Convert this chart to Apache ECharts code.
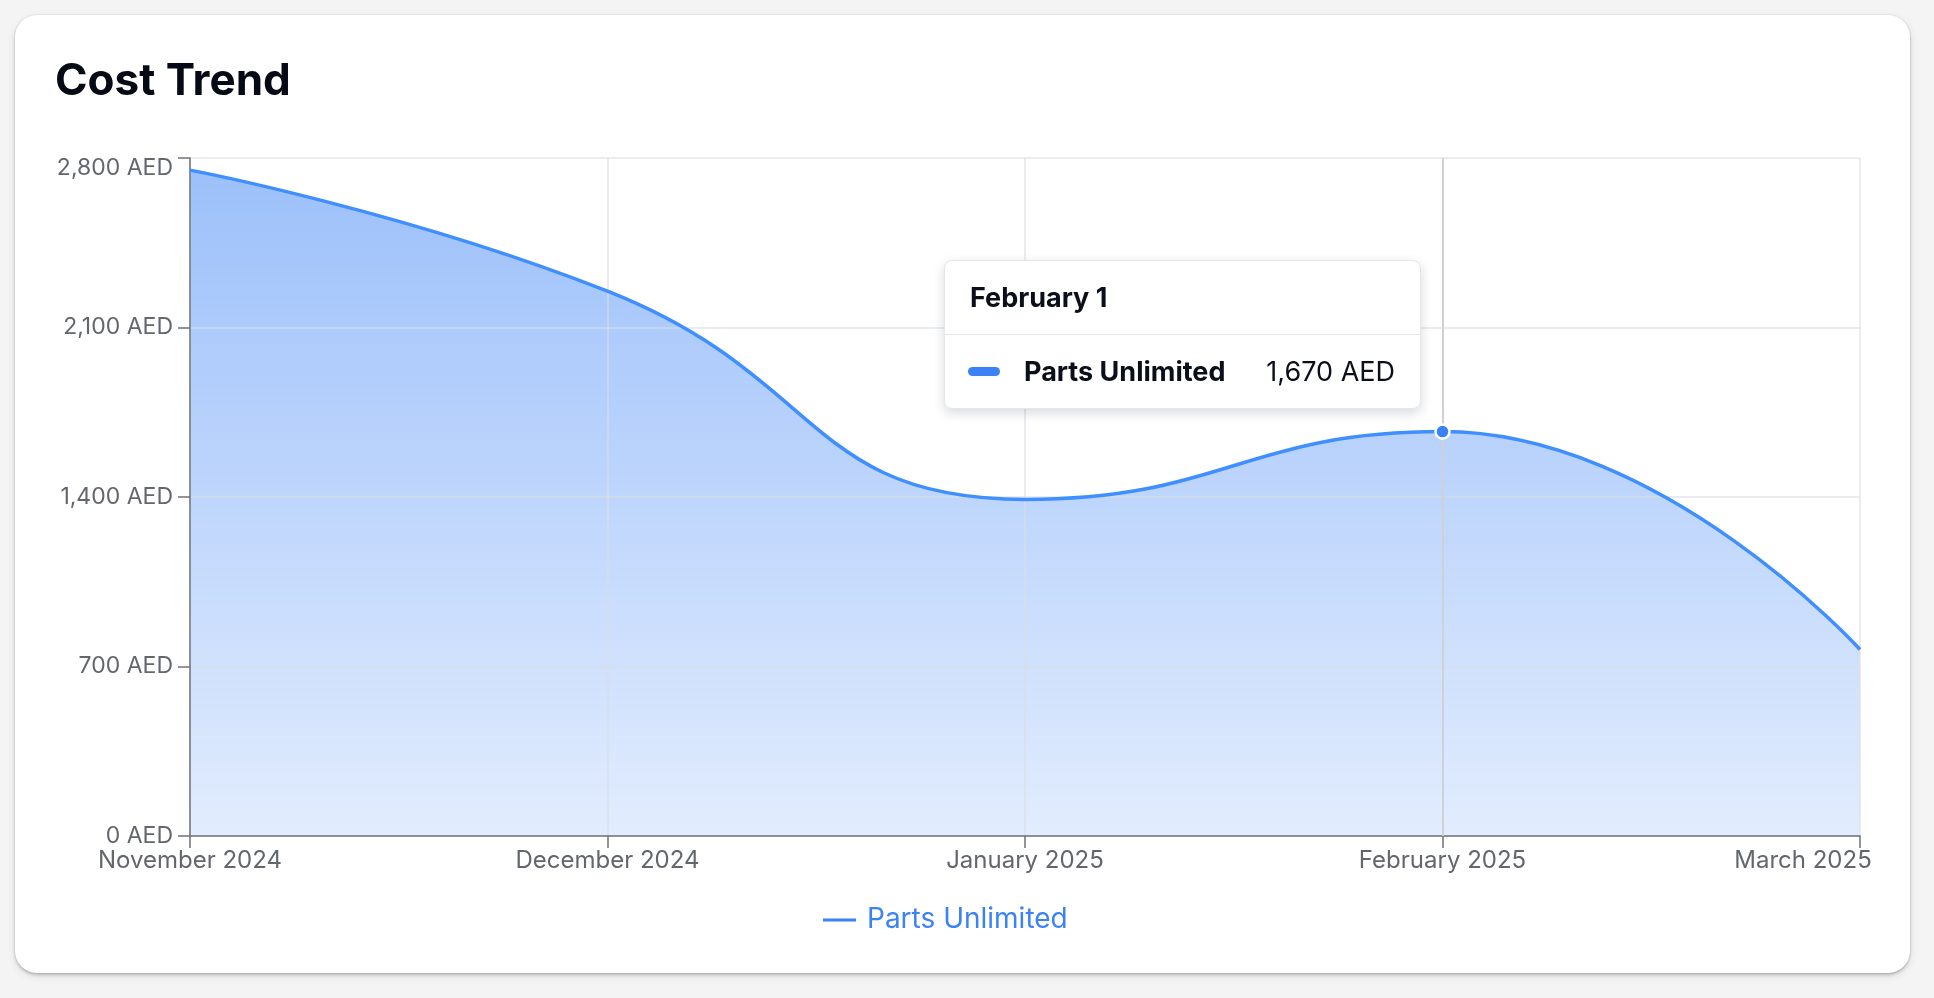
<!DOCTYPE html>
<html>
<head>
<meta charset="utf-8">
<script src="https://cdn.jsdelivr.net/npm/echarts@6/dist/echarts.min.js"></script>
<style>
html, body { margin:0; padding:0; width:1934px; height:998px; background:#f4f4f4; overflow:hidden; font-family: Inter, 'Noto Sans', sans-serif; }
#card { position:absolute; left:15px; top:15px; width:1895px; height:958px; background:#fff; border-radius:22px;
  box-shadow: 0 0 0 1px rgba(0,0,0,0.04), 0 2px 3px rgba(0,0,0,0.18), 0 3px 9px rgba(0,0,0,0.10); }
#chart { position:absolute; left:0; top:0; width:1934px; height:998px; }
</style>
</head>
<body>
<div id="card"></div>
<div id="chart"></div>
<script>
// ---- data ----
const categories = ['2024-11-01', '2024-12-01', '2025-01-01', '2025-02-01', '2025-03-01'];
const seriesName = 'Parts Unlimited';
const costValues = [2750, 2250, 1390, 1670, 770];
const yTicks = [0, 700, 1400, 2100, 2800];
const monthNames = ['January','February','March','April','May','June','July','August','September','October','November','December'];
const tooltipIndex = 3;

// ---- helpers ----
function parts(iso) { const [y, m, d] = iso.split('-').map(Number); return { y, m, d }; }
function monthYear(iso) { const p = parts(iso); return monthNames[p.m - 1] + ' ' + p.y; }
function monthDay(iso) { const p = parts(iso); return monthNames[p.m - 1] + ' ' + p.d; }
function aed(v) { return Number(v).toLocaleString('en-US') + ' AED'; }

const FONT = 'Inter, "Noto Sans", sans-serif';
const BLUE = '#3b82f6';
const AXIS = '#707278';
const LABEL = '#63666c';
const GRID = 'rgba(218,221,228,0.75)';

const chart = echarts.init(document.getElementById('chart'), null, { renderer: 'canvas' });

const option = {
  animation: false,
  backgroundColor: 'transparent',
  textStyle: { fontFamily: FONT },
  title: {
    text: 'Cost Trend', left: 50, top: 55,
    textStyle: { fontFamily: FONT, fontSize: 44, fontWeight: 700, color: '#060a14' }
  },
  grid: { left: 190, right: 74, top: 158, bottom: 162, containLabel: false },
  legend: {
    data: [{ name: seriesName, icon: 'rect', itemStyle: { color: BLUE } }],
    left: 821, top: 906, padding: 0, itemWidth: 35, itemHeight: 5,
    textStyle: { fontFamily: FONT, fontSize: 28, color: BLUE, padding: [0, 0, 0, 5] },
    selectedMode: false
  },
  tooltip: {
    trigger: 'axis',
    alwaysShowContent: true,
    transitionDuration: 0,
    padding: 0,
    borderWidth: 1,
    borderColor: '#e5e7eb',
    backgroundColor: '#ffffff',
    extraCssText: 'border-radius:8px; box-shadow:0 4px 12px rgba(15,23,42,0.16);',
    axisPointer: { type: 'line', z: 3.5, lineStyle: { color: '#d0d1d6', width: 2, type: 'solid' } },
    position: function (point, params, dom, rect, size) {
      return [point[0] - size.contentSize[0] - 22, point[1] - size.contentSize[1] - 23];
    },
    formatter: function (params) {
      const p = params[0];
      return '<div style="width:475px;font-family:' + FONT.replace(/"/g, "'") + ';color:#0b0f1a;">' +
        '<div style="height:73px;display:flex;align-items:center;padding:0 25px;font-weight:700;font-size:27px;border-bottom:1px solid #e5e7eb;">' +
        monthDay(categories[p.dataIndex]) + '</div>' +
        '<div style="height:73px;display:flex;align-items:center;padding:0 25px 0 23px;font-size:27px;">' +
        '<span style="display:inline-block;width:32px;height:9px;border-radius:5px;background:' + BLUE + ';margin-right:24px;"></span>' +
        '<span style="font-weight:700;">' + p.seriesName + '</span>' +
        '<span style="margin-left:auto;">' + aed(p.value) + '</span>' +
        '</div></div>';
    }
  },
  xAxis: {
    type: 'category',
    data: categories,
    boundaryGap: false,
    z: 3,
    axisLine: { show: true, lineStyle: { color: AXIS, width: 1.5 } },
    axisTick: { show: true, length: 12, alignWithLabel: true, lineStyle: { color: AXIS, width: 1.5 } },
    splitLine: { show: true, lineStyle: { color: GRID, width: 1.5 } },
    axisLabel: {
      interval: 0, margin: 13, fontSize: 24, color: LABEL, fontFamily: FONT,
      formatter: function (v, i) {
        const t = monthYear(v);
        return i === categories.length - 1 ? '{end|' + t + '}' : t;
      },
      rich: { end: { fontSize: 24, color: LABEL, fontFamily: FONT, padding: [0, 114, 0, 0] } }
    }
  },
  yAxis: {
    type: 'value',
    min: yTicks[0],
    max: yTicks[yTicks.length - 1],
    interval: yTicks[1] - yTicks[0],
    z: 3,
    axisLine: { show: true, lineStyle: { color: AXIS, width: 1.5 } },
    axisTick: { show: true, length: 12, lineStyle: { color: AXIS, width: 1.5 } },
    splitLine: { show: true, lineStyle: { color: GRID, width: 1.5 } },
    axisLabel: {
      margin: 17, fontSize: 23, color: LABEL, fontFamily: FONT,
      formatter: function (v) {
        const t = aed(v);
        return v === yTicks[yTicks.length - 1] ? '{top|' + t + '}' : t;
      },
      rich: { top: { fontSize: 23, color: LABEL, fontFamily: FONT, padding: [20, 0, 0, 0] } }
    }
  },
  series: [
    {
      type: 'line', name: seriesName, data: costValues,
      smooth: 0.5,
      showSymbol: false, symbol: 'circle', symbolSize: 14,
      lineStyle: { color: BLUE, width: 3.5 },
      itemStyle: { color: BLUE, borderColor: '#ffffff', borderWidth: 2.5 },
      emphasis: { scale: false, lineStyle: { width: 3.5 }, itemStyle: { color: BLUE, borderColor: '#ffffff', borderWidth: 2.5 } },
      z: 4
    },
    {
      type: 'line', name: seriesName, data: costValues,
      smooth: 0.5,
      showSymbol: false, silent: true,
      lineStyle: { width: 0, opacity: 0 },
      tooltip: { show: false },
      emphasis: { disabled: true },
      areaStyle: {
        opacity: 1,
        color: new echarts.graphic.LinearGradient(0, 0, 0, 1, [
          { offset: 0, color: 'rgba(59,130,246,0.50)' },
          { offset: 1, color: 'rgba(59,130,246,0.15)' }
        ])
      },
      z: 2
    }
  ]
};

chart.setOption(option);
chart.dispatchAction({ type: 'showTip', seriesIndex: 0, dataIndex: tooltipIndex });
setTimeout(function () { chart.dispatchAction({ type: 'showTip', seriesIndex: 0, dataIndex: tooltipIndex }); }, 50);
</script>
</body>
</html>
